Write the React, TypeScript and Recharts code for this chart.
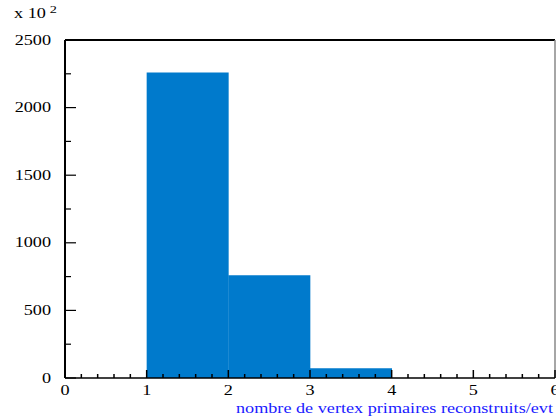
import { BarChart, Bar, XAxis, YAxis, ReferenceLine, Label } from "recharts";

// bin edges 0..6, entries per bin (x 10^2)
const BIN_STARTS = [0, 1, 2, 3, 4, 5];
const BIN_COUNTS = [0, 2260, 760, 72, 0, 0];

const X_TICKS = [
  0, 0.2, 0.4, 0.6, 0.8, 1, 1.2, 1.4, 1.6, 1.8, 2, 2.2, 2.4, 2.6, 2.8, 3, 3.2,
  3.4, 3.6, 3.8, 4, 4.2, 4.4, 4.6, 4.8, 5, 5.2, 5.4, 5.6, 5.8, 6,
];
const X_LABELS = [0, 1, 2, 3, 4, 5, 6];
const Y_TICKS = [0, 250, 500, 750, 1000, 1250, 1500, 1750, 2000, 2250, 2500];
const Y_LABELS = [0, 500, 1000, 1500, 2000, 2500];

const X_TITLE = "nombre de vertex primaires reconstruits/evt";

const data = BIN_STARTS.map((lo, i) => ({ lo, bin: `b${i}`, count: BIN_COUNTS[i] }));

const FONT = "'Liberation Serif', 'Times New Roman', serif";
const SX = 1.3;

function XTick({ x, y, payload }: any) {
  const v = payload.value;
  const major = X_LABELS.some((m) => Math.abs(m - v) < 1e-6);
  return (
    <g>
      <line x1={x} x2={x} y1={y} y2={y - (major ? 8 : 4)} stroke="#000" strokeWidth={1.5} />
      {major && (
        <text
          transform={`translate(${x},${y + 17}) scale(${SX},1)`}
          textAnchor="middle"
          fontFamily={FONT}
          fontSize={14}
          fill="#000"
        >
          {Math.round(v)}
        </text>
      )}
    </g>
  );
}

function YTick({ x, y, payload }: any) {
  const v = payload.value;
  const major = Y_LABELS.includes(v);
  return (
    <g>
      <line x1={x} x2={x + (major ? 11 : 6)} y1={y} y2={y} stroke="#000" strokeWidth={1.2} />
      {major && (
        <text
          transform={`translate(${x - 14},${y + 4.5}) scale(${SX},1)`}
          textAnchor="end"
          fontFamily={FONT}
          fontSize={14}
          fill="#000"
        >
          {v}
        </text>
      )}
    </g>
  );
}

export default function App() {
  return (
    <div style={{ position: "fixed", left: 0, top: 0, background: "#fff" }}>
      <BarChart
        width={556}
        height={418}
        data={data}
        barCategoryGap={0}
        barGap={0}
        margin={{ top: 40, right: 1, bottom: 0, left: 0 }}
      >
        <XAxis xAxisId="bins" dataKey="bin" hide height={0} />
        <XAxis
          xAxisId="edges"
          dataKey="lo"
          type="number"
          domain={[0, 6]}
          ticks={X_TICKS}
          interval={0}
          allowDataOverflow
          height={40}
          tickSize={0}
          tickMargin={0}
          tick={<XTick />}
          axisLine={{ stroke: "#000", strokeWidth: 1.5 }}
        >
          <Label
            content={() => (
              <text
                transform={`translate(553,413) scale(${SX},1)`}
                textAnchor="end"
                fontFamily={FONT}
                fontSize={14}
                fill="#1a1aff"
              >
                {X_TITLE}
              </text>
            )}
          />
        </XAxis>
        <YAxis
          domain={[0, 2500]}
          ticks={Y_TICKS}
          interval={0}
          width={65}
          tickSize={0}
          tickMargin={0}
          tick={<YTick />}
          axisLine={{ stroke: "#000", strokeWidth: 2 }}
        >
          <Label
            content={() => (
              <text
                transform={`translate(14,18) scale(${SX},1)`}
                fontFamily={FONT}
                fontSize={14}
                fill="#000"
              >
                <tspan>x 10</tspan>
                <tspan dx={3} dy={-5} fontSize={11}>2</tspan>
              </text>
            )}
          />
        </YAxis>
        <Bar
          xAxisId="bins"
          dataKey="count"
          fill="#007acc"
          isAnimationActive={false}
        />
        <ReferenceLine xAxisId="edges" y={2500} stroke="#000" strokeWidth={2} />
        <ReferenceLine xAxisId="edges" x={6} stroke="#888" strokeWidth={1.5} />
      </BarChart>
    </div>
  );
}
